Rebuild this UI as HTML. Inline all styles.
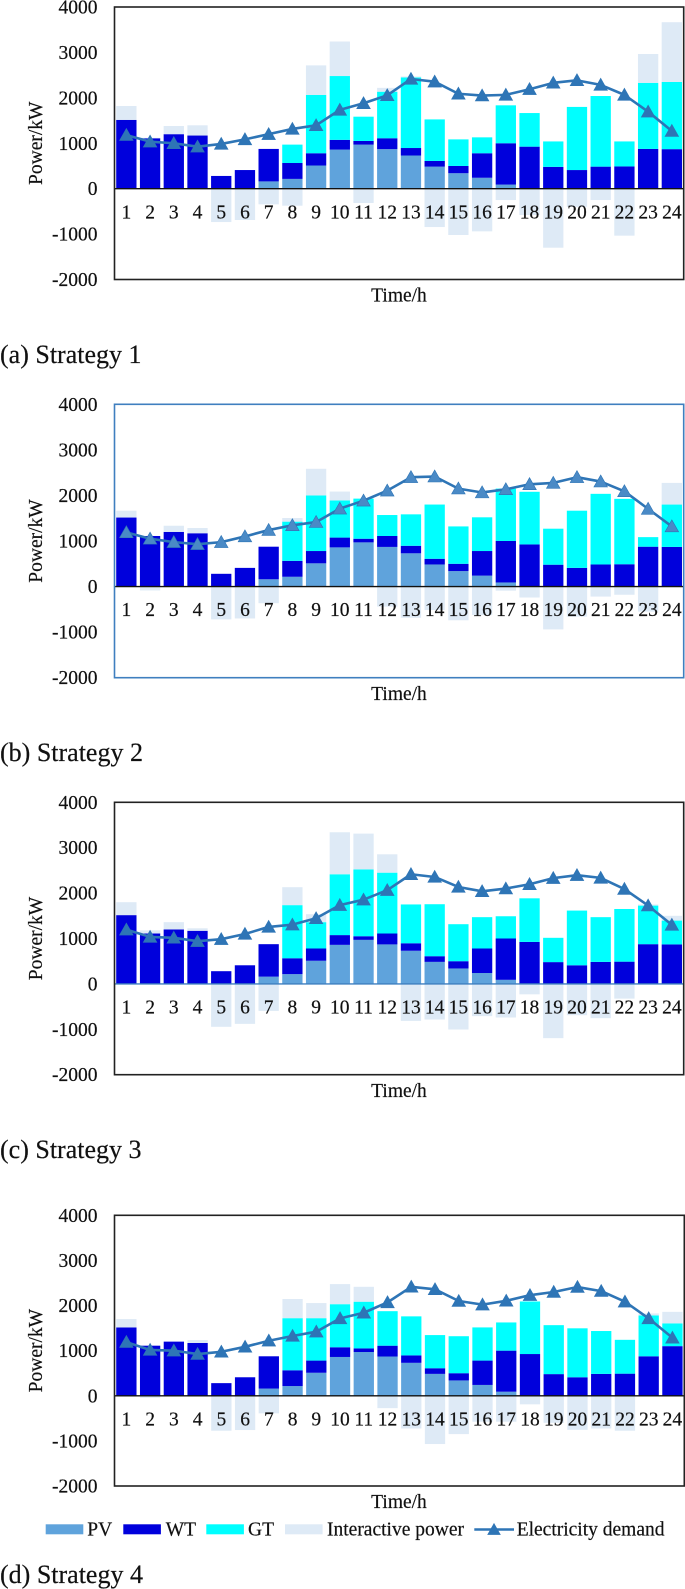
<!DOCTYPE html>
<html lang="en">
<head>
<meta charset="utf-8">
<title>Power dispatch under four strategies</title>
<style>
html,body{margin:0;padding:0;background:#fff;width:685px;height:1589px;overflow:hidden}
svg{display:block;filter:blur(0.3px)}
text{font-family:"Liberation Serif",serif;fill:#111;stroke:#111;stroke-width:0.2px}
</style>
</head>
<body>
<svg id="figure" xmlns="http://www.w3.org/2000/svg" width="685" height="1589" viewBox="0 0 685 1589"></svg>
<script>
const hours = ["1","2","3","4","5","6","7","8","9","10","11","12","13","14","15","16","17","18","19","20","21","22","23","24"];
const yTicks = [4000,3000,2000,1000,0,-1000,-2000];
const pv = [0,0,0,0,0,0,160,215,510,860,970,870,730,485,340,240,90,0,0,0,0,0,0,0];
const wt = [1515,1110,1200,1170,280,410,715,350,270,215,80,240,165,125,160,540,910,925,480,410,485,490,875,870];
const wtStrategy4 = [1515,1110,1200,1170,280,410,715,350,270,215,80,240,165,125,160,540,910,925,480,410,485,490,875,1100];
const gt1 = [0,0,0,0,0,0,0,405,1285,1405,535,1025,1555,915,585,350,835,740,560,1390,1555,550,1455,1480];
const gt2 = [0,0,0,0,0,0,0,860,1220,815,880,460,690,1190,820,740,1150,1155,790,1255,1550,1435,210,930];
const gt3 = [0,0,0,0,0,0,0,1170,580,1340,1470,1340,855,1145,815,690,490,960,535,1205,985,1160,850,525];
const gt4 = [0,0,0,0,0,0,0,1155,940,955,1035,765,865,735,820,735,625,1165,1085,1085,950,750,905,505];
const grid1 = [305,10,180,225,-735,-690,-345,-375,650,760,-315,85,20,-845,-1020,-940,-250,-580,-1300,-400,-250,-1035,635,1315];
const grid2 = [150,-85,135,115,-720,-700,-365,80,585,195,0,-440,-685,-515,-740,-625,-90,-240,-940,-660,-220,-180,-550,475];
const grid3 = [285,70,160,55,-945,-880,-595,395,175,925,790,405,-815,-785,-1005,-710,-740,-230,-1195,-690,-755,-325,25,105];
const grid4 = [185,-45,0,65,-775,-760,-390,425,335,445,330,-275,-725,-1070,-850,-575,-575,-190,-600,-755,-725,-775,45,255];
const demand1 = [1180,1035,1000,925,985,1085,1200,1315,1395,1735,1880,2055,2415,2355,2090,2050,2065,2190,2330,2385,2285,2065,1695,1270];
const demand2 = [1190,1050,975,930,975,1100,1240,1345,1415,1710,1885,2105,2400,2415,2150,2065,2135,2245,2275,2400,2305,2090,1705,1320];
const demand3 = [1195,1035,1015,940,985,1100,1255,1305,1445,1735,1855,2065,2415,2355,2135,2040,2100,2195,2330,2395,2335,2090,1725,1300];
const demand4 = [1190,1015,1000,925,975,1085,1220,1325,1420,1715,1840,2070,2415,2360,2100,2020,2105,2230,2300,2410,2320,2085,1715,1285];

const panels = [
  {id:"a",caption:"(a) Strategy 1",wt:wt,gt:gt1,grid:grid1,demand:demand1,left:114.5,right:683.7,top:7,bottom:279.5,capY:363,frame:"#222",axis:"#111",marker:"#2E75B6"},
  {id:"b",caption:"(b) Strategy 2",wt:wt,gt:gt2,grid:grid2,demand:demand2,left:114.5,right:683.7,top:404.3,bottom:677.7,capY:761,frame:"#3F7FBF",axis:"#111",marker:"#4A8AC6"},
  {id:"c",caption:"(c) Strategy 3",wt:wt,gt:gt3,grid:grid3,demand:demand3,left:114.5,right:683.7,top:802.3,bottom:1074.7,capY:1158,frame:"#222",axis:"#3F7FBF",marker:"#2E75B6"},
  {id:"d",caption:"(d) Strategy 4",wt:wtStrategy4,gt:gt4,grid:grid4,demand:demand4,left:114.5,right:684.3,top:1215.3,bottom:1486,capY:1583,frame:"#222",axis:"#111",marker:"#2E75B6"}
];
const colors = {pv:"#5FA3DC",wt:"#0000DC",gt:"#00FFFF",grid:"#DEEAF6",line:"#2E75B6"};
const NS = "http://www.w3.org/2000/svg";
const FS = 19.5;
const root = document.getElementById("figure");

function make(parent, tag, attrs, name) {
  const el = document.createElementNS(NS, tag);
  for (const k in attrs) el.setAttribute(k, attrs[k]);
  
  
  parent.appendChild(el);
  return el;
}
function label(parent, txt, x, y, size, anchor, name) {
  const t = make(parent, "text", {x:x, y:y, "font-size":size, "text-anchor":anchor}, name);
  t.textContent = txt;
  return t;
}
function triPoints(cx, cy) {
  return (cx-6.8)+","+(cy+5.4)+" "+(cx+6.8)+","+(cy+5.4)+" "+cx+","+(cy-6.6);
}
function xAxis(p, i) { return p.left + (p.right-p.left)*(i+0.5)/hours.length; }
function yAxis(p, v) { return p.top + (p.bottom-p.top)*(yTicks[0]-v)/(yTicks[0]-yTicks[yTicks.length-1]); }

function bar(g, p, i, from, to, fill, name) {
  if (to === from) return;
  const bw = 20.3;
  const y0 = yAxis(p, Math.max(from,to));
  const y1 = yAxis(p, Math.min(from,to));
  make(g, "rect", {x:xAxis(p,i)-bw/2, y:y0, width:bw, height:y1-y0, fill:fill}, name);
}

panels.forEach(function(p){
  const g = make(root, "g", {}, "chart-strategy-"+p.id);
  const bars = make(g, "g", {}, "bars");
  hours.forEach(function(h,i){
    let top = 0;
    bar(bars,p,i,top,top+pv[i],colors.pv,"pv-bar-"+h); top+=pv[i];
    bar(bars,p,i,top,top+p.wt[i],colors.wt,"wt-bar-"+h); top+=p.wt[i];
    bar(bars,p,i,top,top+p.gt[i],colors.gt,"gt-bar-"+h); top+=p.gt[i];
    if (p.grid[i]>=0) bar(bars,p,i,top,top+p.grid[i],colors.grid,"interactive-power-bar-"+h);
    else bar(bars,p,i,0,p.grid[i],colors.grid,"interactive-power-bar-"+h);
  });
  const zero = yAxis(p,0);
  make(g,"line",{x1:p.left,x2:p.right,y1:zero,y2:zero,stroke:p.axis,"stroke-width":1.4},"x-axis-line");
  make(g,"rect",{x:p.left,y:p.top,width:p.right-p.left,height:p.bottom-p.top,fill:"none",stroke:p.frame,"stroke-width":1.6},"plot-frame");
  yTicks.forEach(function(v){
    label(g,String(v),97.5,yAxis(p,v)+6.5,FS,"end","y-tick-label-"+v);
  });
  hours.forEach(function(h,i){
    label(g,h,xAxis(p,i),zero+29.6,FS,"middle","x-tick-label-"+h);
  });
  const cy=(p.top+p.bottom)/2;
  const yt=label(g,"Power/kW",0,0,FS,"middle","y-axis-title");
  yt.setAttribute("transform","translate(42 "+cy+") rotate(-90)");
  label(g,"Time/h",399,p.bottom+22.2,FS,"middle","x-axis-title");
  const pts=p.demand.map(function(v,i){return xAxis(p,i)+","+yAxis(p,v);}).join(" ");
  make(g,"polyline",{points:pts,fill:"none",stroke:colors.line,"stroke-width":2.6,"stroke-linejoin":"round"},"electricity-demand-line");
  p.demand.forEach(function(v,i){
    make(g,"polygon",{points:triPoints(xAxis(p,i),yAxis(p,v)),fill:p.marker,stroke:colors.line,"stroke-width":0.6},"electricity-demand-point-"+hours[i]);
  });
  label(g,p.caption,0,p.capY,26,"start","caption-strategy-"+p.id);
});

const legendG = make(root,"g",{},"legend");
const legendItems = [["PV",colors.pv,45.7,87.3],["WT",colors.wt,123.3,165.7],["GT",colors.gt,206.3,248],["Interactive power",colors.grid,285,327]];
legendItems.forEach(function(it){
  const key=it[0].toLowerCase().replace(" ","-");
  make(legendG,"rect",{x:it[2],y:1524.3,width:37.6,height:10,fill:it[1]},"legend-swatch-"+key);
  label(legendG,it[0],it[3],1535.5,FS,"start","legend-label-"+key);
});
make(legendG,"line",{x1:474.3,x2:514,y1:1529.5,y2:1529.5,stroke:colors.line,"stroke-width":2.6},"legend-line-electricity-demand");
make(legendG,"polygon",{points:triPoints(494,1529.5),fill:colors.line},"legend-marker-electricity-demand");
label(legendG,"Electricity demand",516.7,1535.5,FS,"start","legend-label-electricity-demand");
</script>
</body>
</html>
